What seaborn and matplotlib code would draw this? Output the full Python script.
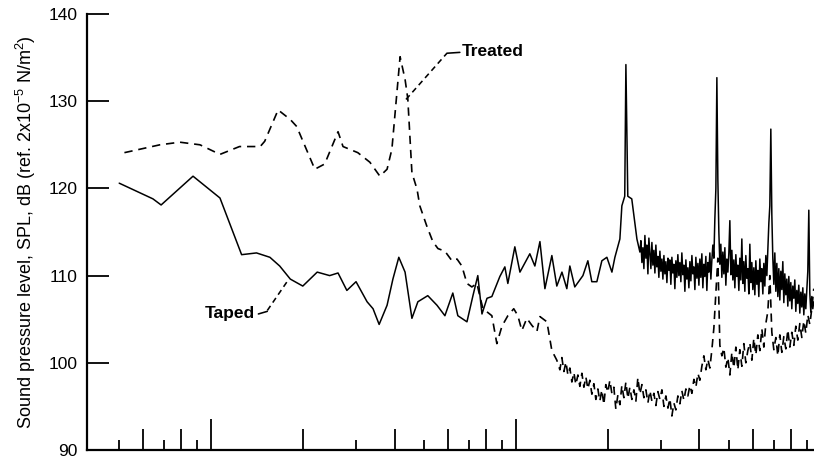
import matplotlib
matplotlib.use("Agg")
import matplotlib.pyplot as plt
from matplotlib.ticker import FixedLocator, NullFormatter, NullLocator
import numpy as np
import pandas as pd
import seaborn as sns

# ---------------- data (frequency in Hz, SPL in dB) ----------------
treated_freq = [52, 68, 79, 92, 107, 124, 145, 150, 166, 182, 191, 219, 236, 261, 271, 303, 332, 358,
                378, 392, 417, 433, 442, 456, 474, 484, 510, 534, 555, 585, 617, 641, 665, 691, 717,
                745, 762, 780, 834, 866, 900, 941, 984, 1015, 1046, 1086, 1128, 1172, 1199, 1264,
                1312, 1362,
                1394, 1415, 1437, 1459, 1481, 1503, 1526, 1549, 1573, 1597,
                1621, 1646, 1671, 1696, 1722, 1748, 1775, 1802, 1829, 1857,
                1885, 1914, 1943, 1972, 2002, 2033, 2064, 2095, 2127, 2160,
                2193, 2226, 2260, 2295, 2330, 2365, 2401, 2438, 2475, 2512,
                2551, 2590, 2629, 2669, 2710, 2751, 2793, 2835, 2878, 2922,
                2967, 3012, 3058, 3104, 3152, 3199, 3248, 3297, 3347, 3398,
                3450, 3502, 3556, 3610, 3665, 3721, 3778, 3835, 3893, 3953,
                4012, 4073, 4135, 4198, 4262, 4327, 4393, 4460, 4528, 4596,
                4666, 4737, 4809, 4882, 4957, 5032, 5109, 5186, 5265, 5345,
                5426, 5509, 5592, 5677, 5764, 5852, 5941, 6031, 6123, 6216,
                6311, 6407, 6504, 6603, 6704, 6805, 6909, 7014, 7121, 7229,
                7339, 7451, 7564, 7679, 7796, 7914, 8034, 8157, 8281, 8407,
                8535, 8665, 8797, 8931, 9066, 9204, 9344, 9484]
treated_spl = [124.1, 125.0, 125.3, 125.0, 123.9, 124.8, 124.8, 125.4, 129.0, 127.9, 127.1, 122.2, 122.8,
               126.5, 124.8, 124.1, 123.0, 121.4, 122.2, 124.5, 135.1, 132.5, 130.3, 121.8, 119.9,
               118.0, 115.7, 113.9, 113.1, 112.8, 111.7, 111.9, 111.1, 109.1, 108.7, 109.1, 107.6,
               106.2, 105.4, 102.2, 104.2, 105.4, 106.2, 105.4, 103.7, 105.1, 104.3, 103.6, 105.3,
               104.7, 101.4, 100.3,
               99.2, 100.6, 99.0, 100.1, 98.6, 99.4, 97.8, 98.9, 97.5, 98.6,
               97.3, 98.8, 97.2, 98.4, 97.0, 98.0, 96.4, 97.6, 95.8, 97.0,
               95.6, 96.9, 95.2, 97.5, 96.6, 98.0, 96.5, 97.2, 94.7, 96.3,
               95.2, 97.4, 96.0, 97.8, 95.9, 97.2, 95.8, 96.9, 95.6, 98.3,
               96.4, 97.5, 96.0, 96.9, 95.4, 96.8, 95.6, 96.5, 95.1, 96.7,
               95.8, 96.9, 95.0, 96.2, 94.8, 95.9, 93.9, 95.4, 94.6, 96.2,
               95.3, 96.8, 95.7, 97.0, 96.2, 97.4, 96.5, 98.1, 97.2, 98.8,
               98.0, 99.6, 100.8, 99.2, 100.4, 99.4, 101.5, 104.0, 108.0, 112.0,
               102.0, 100.8, 101.7, 99.5, 100.6, 98.6, 101.2, 99.4, 101.8, 99.2,
               101.5, 99.6, 102.2, 100.0, 101.4, 102.3, 100.3, 102.8, 100.9, 103.2,
               101.4, 103.9, 101.8, 104.5, 105.9, 110.0, 103.5, 101.5, 102.9, 100.8,
               103.2, 101.2, 103.0, 101.6, 103.8, 101.8, 103.5, 102.0, 104.2, 102.6,
               104.5, 102.9, 104.8, 103.4, 105.5, 104.4, 106.2, 108.5]

taped_freq = [50, 64.5, 68.6, 87.3, 107, 126, 141, 156, 168, 182, 200, 223, 245, 261, 279, 299, 325,
              340, 356, 378, 395, 413, 433, 456, 477, 514, 551, 585, 621, 645, 691, 723, 750, 774, 804,
              834, 886, 920, 941, 992, 1031, 1111, 1154, 1199, 1245, 1312, 1362, 1416, 1469, 1503,
              1560, 1659, 1722, 1774, 1843, 1914, 1988, 2065, 2112, 2193, 2226, 2275, 2295, 2328,
              2399, 2494,
              2551, 2570, 2590, 2609, 2629, 2649, 2669, 2689, 2710, 2730,
              2751, 2772, 2793, 2814, 2835, 2857, 2878, 2900, 2922, 2944,
              2967, 2989, 3012, 3035, 3058, 3081, 3104, 3128, 3152, 3176,
              3199, 3223, 3248, 3272, 3297, 3322, 3347, 3373, 3398, 3424,
              3450, 3476, 3502, 3529, 3556, 3583, 3610, 3637, 3665, 3693,
              3721, 3749, 3778, 3806, 3835, 3864, 3893, 3923, 3953, 3983,
              4012, 4042, 4073, 4104, 4135, 4166, 4198, 4230, 4262, 4294,
              4327, 4360, 4393, 4426, 4460, 4493, 4528, 4562, 4596, 4631,
              4666, 4701, 4737, 4773, 4809, 4846, 4882, 4919, 4957, 4994,
              5032, 5070, 5109, 5147, 5186, 5226, 5265, 5305, 5345, 5386,
              5426, 5467, 5509, 5550, 5592, 5635, 5677, 5720, 5764, 5808,
              5852, 5896, 5941, 5986, 6031, 6077, 6123, 6170, 6216, 6263,
              6311, 6359, 6407, 6456, 6504, 6554, 6603, 6654, 6704, 6755,
              6805, 6857, 6909, 6961, 7014, 7067, 7121, 7175, 7229, 7284,
              7339, 7395, 7451, 7507, 7564, 7621, 7679, 7737, 7796, 7855,
              7914, 7974, 8034, 8095, 8157, 8218, 8281, 8343, 8407, 8470,
              8535, 8600, 8665, 8731, 8797, 8863, 8931, 8998, 9066, 9135,
              9204, 9274, 9344, 9415, 9484]
taped_spl = [120.6, 118.8, 118.1, 121.4, 118.9, 112.4, 112.6, 112.1, 111.1, 109.6, 108.8, 110.4, 110.0,
             110.3, 108.3, 109.3, 107.0, 106.2, 104.4, 106.6, 109.6, 112.1, 110.4, 105.1, 107.0, 107.7,
             106.6, 105.4, 108.0, 105.4, 104.7, 107.7, 110.0, 105.6, 107.4, 107.6, 109.9, 111.0, 109.1,
             113.3, 110.4, 112.5, 111.1, 113.9, 108.5, 112.3, 108.8, 110.4, 108.5, 111.1, 108.7, 110.0,
             111.7, 109.3, 109.3, 111.7, 112.1, 110.4, 112.1, 114.2, 118.0, 119.1, 134.2, 119.1, 118.8,
             114.2,
             112.7, 114.0, 111.5, 113.2, 110.8, 114.6, 112.0, 113.5, 110.2, 114.3,
             112.5, 110.8, 113.8, 111.2, 112.9, 110.3, 113.5, 111.0, 112.2, 109.8,
             112.8, 110.5, 111.9, 109.6, 112.3, 110.2, 111.6, 109.2, 112.0, 110.6,
             111.8, 109.0, 112.1, 110.3, 111.3, 108.5, 111.7, 109.8, 112.4, 110.0,
             111.5, 109.3, 112.6, 110.1, 111.2, 108.2, 111.8, 109.6, 110.9, 108.6,
             111.6, 109.4, 112.3, 110.2, 111.0, 108.4, 112.1, 109.7, 111.4, 108.9,
             111.9, 109.8, 112.5, 108.6, 111.3, 109.9, 112.2, 108.3, 111.5, 110.4,
             112.6, 109.6, 111.8, 113.5, 112.0, 116.5, 120.0, 132.7, 121.0, 115.0,
             111.3, 113.6, 109.8, 112.7, 110.2, 113.2, 108.9, 111.9, 110.4, 112.6,
             116.3, 110.1, 112.9, 109.5, 111.8, 108.6, 112.4, 109.9, 111.2, 108.3,
             112.0, 109.5, 114.2, 109.1, 111.6, 108.2, 112.3, 109.7, 110.8, 107.9,
             113.6, 109.2, 111.5, 108.4, 110.9, 107.8, 111.7, 109.0, 110.6, 107.6,
             111.9, 109.3, 110.8, 107.9, 111.4, 108.8, 112.3, 110.0, 113.0, 116.0,
             118.0, 126.8, 117.0, 112.0, 109.0, 112.6, 108.2, 111.4, 107.6, 110.8,
             107.2, 110.5, 108.4, 111.6, 106.9, 110.2, 107.8, 109.6, 106.5, 109.9,
             107.1, 109.2, 106.2, 108.8, 107.4, 109.5, 105.9, 108.3, 106.8, 108.9,
             105.7, 108.1, 106.4, 108.6, 105.5, 107.9, 106.2, 108.4, 110.5, 117.5,
             108.0, 105.8, 107.6, 106.2, 107.0]

y_ticks = [90, 100, 110, 120, 130, 140]
x_tick_freqs = [50, 60, 70, 80, 90, 100, 200, 300, 400, 500, 600, 700, 800, 900, 1000,
                2000, 3000, 4000, 5000, 6000, 7000, 8000, 9000]
ylabel_text = "Sound pressure level, SPL, dB (ref. 2x10$^{-5}$ N/m$^{2}$)"

# ---------------- style ----------------
sns.set_style("ticks")
plt.rcParams["font.family"] = ["Liberation Sans", "DejaVu Sans"]
plt.rcParams["mathtext.default"] = "regular"
for key in ("text.color", "axes.labelcolor", "xtick.color", "ytick.color", "axes.edgecolor"):
    plt.rcParams[key] = "black"

fig = plt.figure(figsize=(8.14, 4.59), dpi=100)
ax = fig.add_axes([87 / 814, 9 / 459, 727 / 814, 436 / 459])

df_treated = pd.DataFrame({"freq": treated_freq, "spl": treated_spl})
df_taped = pd.DataFrame({"freq": taped_freq, "spl": taped_spl})

sns.lineplot(data=df_treated, x="freq", y="spl", ax=ax, color="black", linewidth=1.2,
             linestyle=(0, (5, 3.5)), estimator=None, sort=False)
sns.lineplot(data=df_taped, x="freq", y="spl", ax=ax, color="black", linewidth=1.1,
             estimator=None, sort=False)

ax.set_xscale("log")
ax.set_xlim(39.2, 9500)
ax.set_ylim(90, 140)
ax.set_xlabel("")
ax.set_ylabel(ylabel_text, fontsize=13)
ax.yaxis.set_label_coords(-0.068, 0.5)

for s in ("top", "right"):
    ax.spines[s].set_visible(False)
ax.spines["left"].set_linewidth(1.6)
ax.spines["bottom"].set_linewidth(1.6)

ax.set_yticks(y_ticks)
ax.tick_params(axis="y", direction="in", length=16, width=1.3, pad=7, labelsize=12.5)

ax.xaxis.set_major_locator(FixedLocator(x_tick_freqs))
ax.xaxis.set_minor_locator(NullLocator())
ax.xaxis.set_major_formatter(NullFormatter())
ax.tick_params(axis="x", direction="in", width=1.3)
for tick, f in zip(ax.xaxis.get_major_ticks(), x_tick_freqs):
    lead = int(str(f)[0])
    if f in (100, 1000):
        L = 22
    elif lead % 2 == 0:
        L = 15
    else:
        L = 7.5
    tick.tick1line.set_markersize(L)

# ---------------- annotations ----------------
ax.plot([436, 594], [130.2, 135.5], color="black", linewidth=1.15, linestyle=(0, (3.5, 2.5)))
ax.plot([594, 655], [135.5, 135.6], color="black", linewidth=1.15)
ax.text(662, 135.7, "Treated", fontsize=12.5, fontweight="bold", va="center", ha="left")

ax.plot([153, 180], [106.0, 109.6], color="black", linewidth=1.15, linestyle=(0, (3.5, 2.5)))
ax.plot([143, 153], [105.6, 105.9], color="black", linewidth=1.15)
ax.text(139, 105.6, "Taped", fontsize=12.5, fontweight="bold", va="center", ha="right")

fig.savefig("out.png", dpi=100)
